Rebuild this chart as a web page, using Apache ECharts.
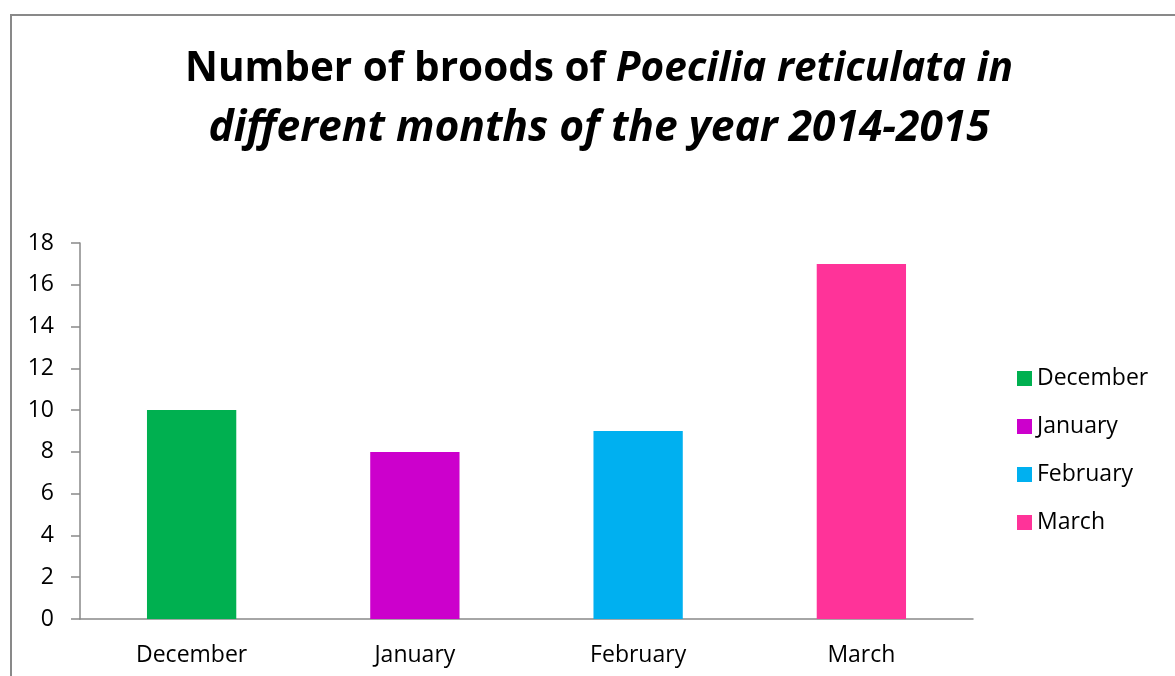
<!DOCTYPE html>
<html>
<head>
<meta charset="utf-8">
<script src="https://cdn.jsdelivr.net/npm/echarts@6/dist/echarts.min.js"></script>
<style>
  html, body { margin: 0; padding: 0; background: #fff; }
  #frame { position: absolute; left: 10px; top: 14px; width: 1200px; height: 700px;
           border: 2px solid #898989; box-sizing: border-box; }
  #chart { position: absolute; left: 0; top: 0; width: 1175px; height: 676px; }
</style>
</head>
<body>
<div id="frame"></div>
<div id="chart"></div>
<script>
const months = ['December', 'January', 'February', 'March']
const broods = [10, 8, 9, 17]
const barColors = ['#00B050', '#CC00CC', '#00B0F0', '#FF3399']
const yTicks = { min: 0, max: 18, interval: 2 }

const font = 'Open Sans'

// one series per month so the legend can list them; stacked so they sit centred
const series = months.map((m, i) => ({
  name: m,
  type: 'bar',
  stack: 'all',
  barWidth: '40%',
  itemStyle: { color: barColors[i] },
  data: months.map((_, j) => (j === i ? broods[i] : '-'))
}))

const titleStyle = { fontFamily: font, fontWeight: 'bold', color: '#000', lineHeight: 60 }

const chart = echarts.init(document.getElementById('chart'))
chart.setOption({
  animation: false,
  color: barColors,
  title: {
    left: 594,
    top: 34,
    textAlign: 'center',
    text: '{b|Number of broods of }{i|Poecilia reticulata in}\n{j|different months of the year 2014-2015}',
    textStyle: {
      rich: {
        b: { ...titleStyle, fontSize: 40.5 },
        i: { ...titleStyle, fontStyle: 'italic', fontSize: 40.5 },
        j: { ...titleStyle, fontStyle: 'italic', fontSize: 42.5 }
      }
    }
  },
  legend: {
    orient: 'vertical',
    left: 1012,
    top: 362,
    icon: 'rect',
    itemWidth: 15,
    itemHeight: 15,
    itemGap: 25,
    textStyle: { fontFamily: font, fontSize: 23, color: '#000' },
    data: months
  },
  grid: { left: 80, right: 202, top: 243, bottom: 57 },
  xAxis: {
    type: 'category',
    data: months,
    axisLine: { lineStyle: { color: '#898989', width: 1.5 } },
    axisTick: { length: 8, lineStyle: { color: '#898989', width: 1.5 } },
    axisLabel: { color: '#000', fontFamily: font, fontSize: 23, margin: 25 }
  },
  yAxis: {
    type: 'value',
    min: yTicks.min,
    max: yTicks.max,
    interval: yTicks.interval,
    splitLine: { show: false },
    axisLine: { show: true, lineStyle: { color: '#898989', width: 1.5 } },
    axisTick: { show: true, length: 9, lineStyle: { color: '#898989', width: 1.5 } },
    axisLabel: { color: '#000', fontFamily: font, fontSize: 23, margin: 26 }
  },
  series
})
</script>
</body>
</html>
